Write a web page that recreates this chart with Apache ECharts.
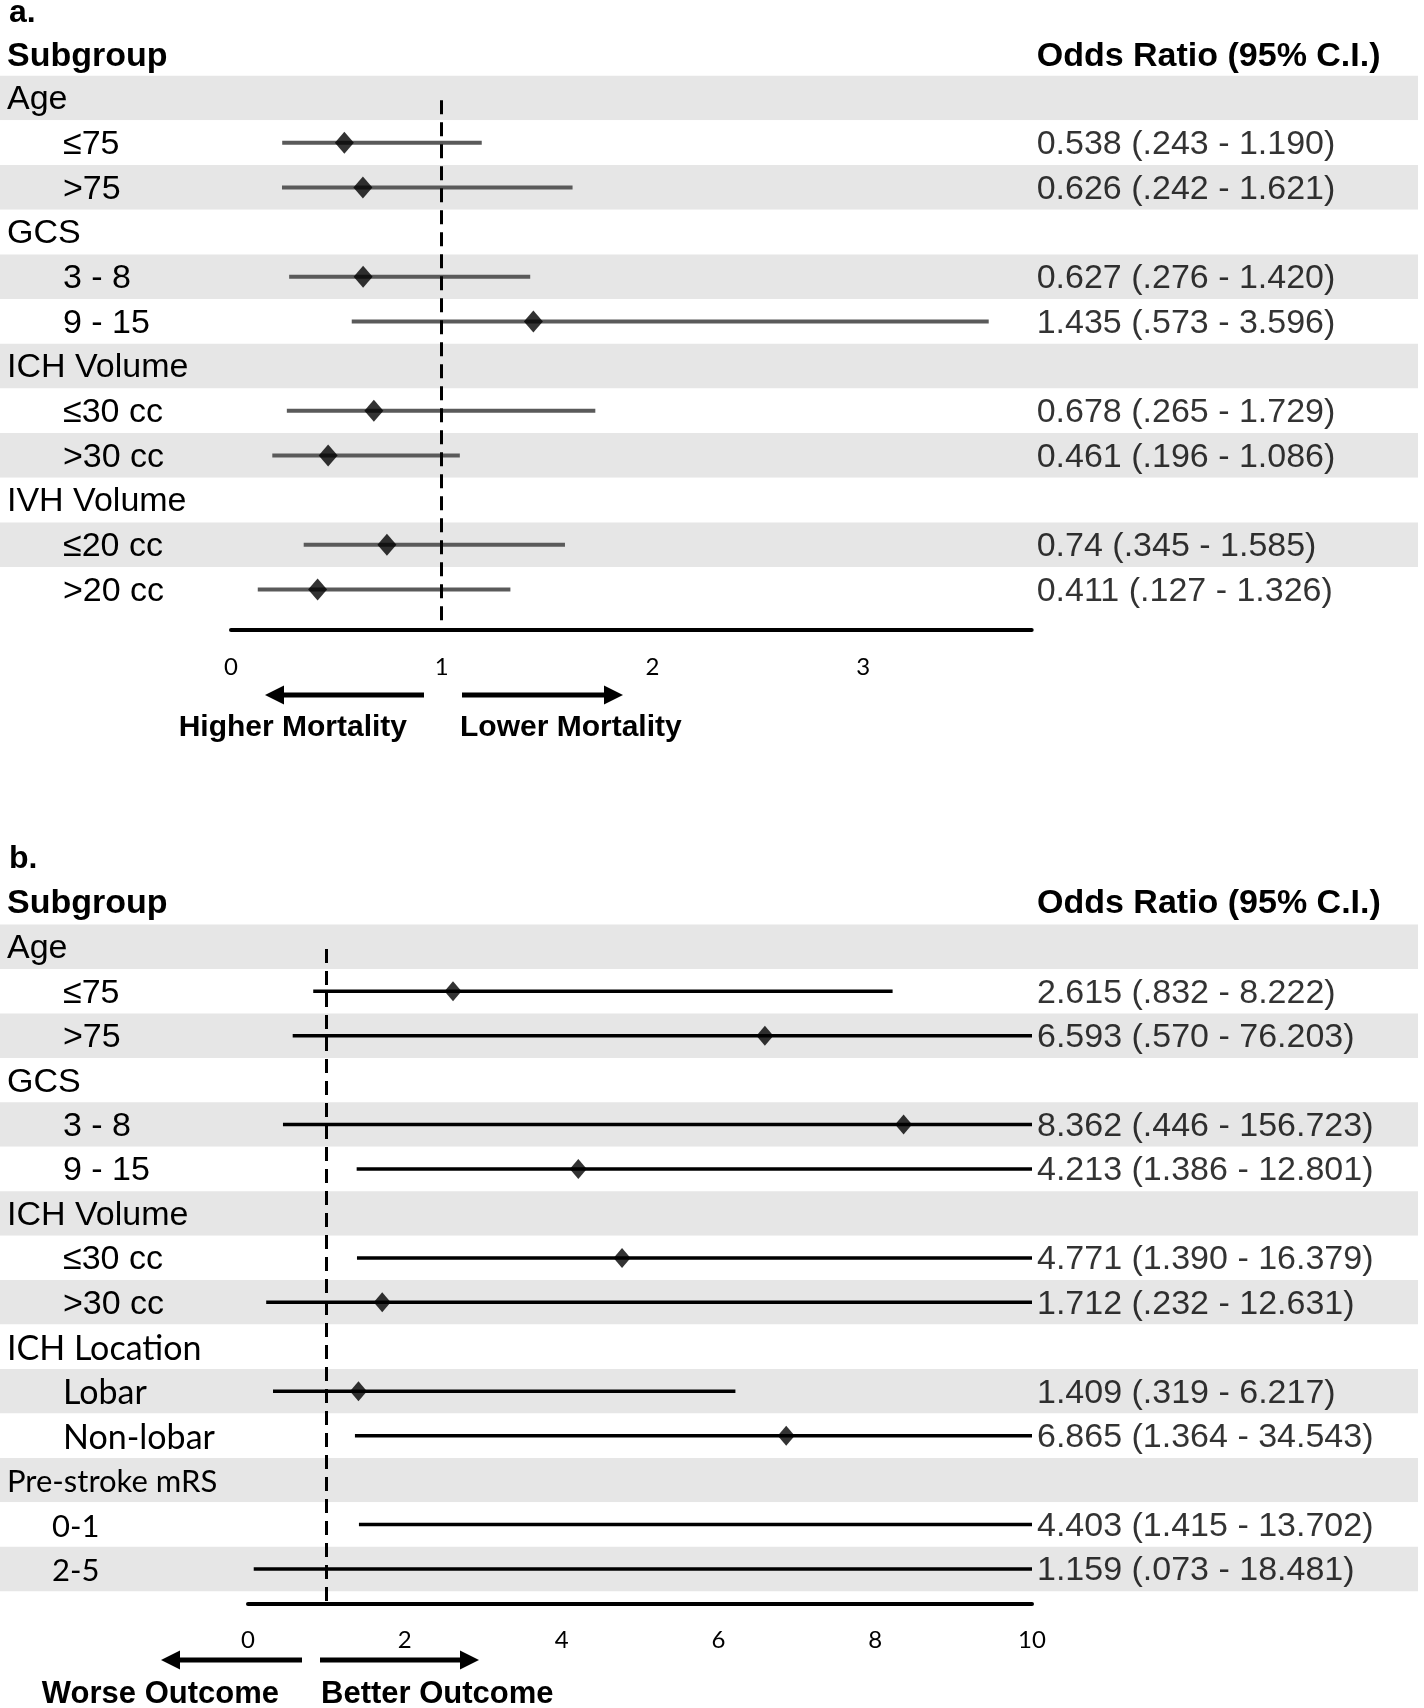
<!DOCTYPE html>
<html><head><meta charset="utf-8">
<script src="https://cdn.jsdelivr.net/npm/echarts@6/dist/echarts.min.js"></script>
<style>html,body{margin:0;padding:0;background:#fff}#c{width:1424px;height:1708px}</style>
</head><body><div id="c"></div>
<script>
// ================= DATA =================
// Panel a: mortality
const rowsA = ['Age','≤75','>75','GCS','3 - 8','9 - 15','ICH Volume','≤30 cc','>30 cc','IVH Volume','≤20 cc','>20 cc'];
const headerA = [1,0,0,1,0,0,1,0,0,1,0,0];
const orA = [null,0.538,0.626,null,0.627,1.435,null,0.678,0.461,null,0.74,0.411];
const loA = [null,0.243,0.242,null,0.276,0.573,null,0.265,0.196,null,0.345,0.127];
const hiA = [null,1.190,1.621,null,1.420,3.596,null,1.729,1.086,null,1.585,1.326];
const textA = ['','0.538 (.243 - 1.190)','0.626 (.242 - 1.621)','','0.627 (.276 - 1.420)','1.435 (.573 - 3.596)','',
  '0.678 (.265 - 1.729)','0.461 (.196 - 1.086)','','0.74 (.345 - 1.585)','0.411 (.127 - 1.326)'];
const ticksA = {min:0, max:3.8, step:1};
const refLineA = 1;
const notesA = ['Higher Mortality','Lower Mortality'];

// Panel b: outcome
const rowsB = ['Age','≤75','>75','GCS','3 - 8','9 - 15','ICH Volume','≤30 cc','>30 cc','ICH Location','Lobar','Non-lobar','Pre-stroke mRS','0-1','2-5'];
const headerB = [1,0,0,1,0,0,1,0,0,1,0,0,1,0,0];
const orB = [null,2.615,6.593,null,8.362,4.213,null,4.771,1.712,null,1.409,6.865,null,4.403,1.159];
const loB = [null,0.832,0.570,null,0.446,1.386,null,1.390,0.232,null,0.319,1.364,null,1.415,0.073];
const hiB = [null,8.222,76.203,null,156.723,12.801,null,16.379,12.631,null,6.217,34.543,null,13.702,18.481];
const textB = ['','2.615 (.832 - 8.222)','6.593 (.570 - 76.203)','','8.362 (.446 - 156.723)','4.213 (1.386 - 12.801)','',
  '4.771 (1.390 - 16.379)','1.712 (.232 - 12.631)','','1.409 (.319 - 6.217)','6.865 (1.364 - 34.543)','',
  '4.403 (1.415 - 13.702)','1.159 (.073 - 18.481)'];
const ticksB = {min:0, max:10, step:2};
const refLineB = 1;
const notesB = ['Worse Outcome','Better Outcome'];

const tagA = 'a.', tagB = 'b.';
const colHeadLeft = 'Subgroup', colHeadRight = 'Odds Ratio (95% C.I.)';

// ================= LAYOUT / STYLE =================
const W = 1424;
const LA = {bandTop:75.7, rowH:44.67, x0:231, x1:1031.7, axisY:629.7, headY:56.5, tagY:13, tickY:667,
  arrowY:695, noteY:728, arrows:[[424,265],[462,623]], noteX:[407,460], lineColor:'#5a5a5a', lineW:4, dia:[19,22]};
const LB = {bandTop:924.6, rowH:44.44, x0:248, x1:1032, axisY:1603.8, headY:904, tagY:859, tickY:1640,
  arrowY:1660, noteY:1694, arrows:[[302,161],[320,479]], noteX:[279,321], lineColor:'#000', lineW:3.5, dia:[17,20]};
const keysA = headerA.map(h => h ? 'h' : 's');
const keysB = ['h','s','s','h','s','s','h','s','s','hc','sc','sc','hp','sd','sd'];
const hiddenPointsB = [13,14];
const ARIAL = '"Liberation Sans", Arial, sans-serif';
const CAL = 'Lato, "Open Sans", sans-serif';
const RICH = {
  h:{fontFamily:ARIAL, fontSize:34, color:'#000', padding:[4,0,0,0]},
  s:{fontFamily:ARIAL, fontSize:34, color:'#000', padding:[4,0,0,56]},
  hc:{fontFamily:CAL, fontSize:34, color:'#000', padding:[4,0,0,0]},
  sc:{fontFamily:CAL, fontSize:34, color:'#000', padding:[4,0,0,56]},
  hp:{fontFamily:CAL, fontSize:31, color:'#000', padding:[4,0,0,0]},
  sd:{fontFamily:CAL, fontSize:31, color:'#000', padding:[4,0,0,45]}
};

function panel(idx, L, rows, keys, or, lo, hi, txt, ticks, ref, hidden){
  const g0 = idx*2, g1 = idx*2+1;
  const N = rows.length;
  const yMax = (L.axisY - L.bandTop)/L.rowH - 0.5;
  const grids = [
    {left:0, right:6, top:L.bandTop, height:N*L.rowH},
    {left:L.x0, right:W-L.x1, top:L.bandTop, height:L.axisY-L.bandTop}
  ];
  const xAxes = [
    {gridIndex:g0, type:'value', min:0, max:1, show:false},
    {gridIndex:g1, type:'value', min:ticks.min, max:ticks.max, interval:ticks.step,
      axisLine:{show:true, onZero:false, lineStyle:{color:'#000', width:4}},
      axisTick:{show:false}, splitLine:{show:false},
      axisLabel:{showMaxLabel: ticks.max % ticks.step === 0, fontFamily:CAL, fontSize:24, color:'#000',
        margin:L.tickY - L.axisY - 12}}
  ];
  const yAxes = [
    {gridIndex:g0, type:'category', inverse:true, data:rows, boundaryGap:true,
      axisLine:{show:false}, axisTick:{show:false}, splitLine:{show:false},
      splitArea:{show:true, interval:0, areaStyle:{color:['#e6e6e6','#ffffff']}},
      axisLabel:{inside:true, margin:7, interval:0, formatter:(v,i)=>'{'+keys[i]+'|'+v+'}', rich:RICH}},
    {gridIndex:g1, type:'value', inverse:true, min:-0.5, max:yMax, show:false}
  ];
  const ciData = [], ptData = [], txtData = [];
  for (let i=0;i<N;i++){
    if (or[i] == null) continue;
    ciData.push([i, lo[i], hi[i]]);
    if (!hidden.includes(i)) ptData.push([or[i], i]);
    txtData.push([ticks.max, i, txt[i]]);
  }
  const xi = g1, yi = g1;
  const series = [
    {type:'custom', xAxisIndex:xi, yAxisIndex:yi, data:ciData, encode:{x:[1,2], y:0}, z:3, silent:true,
      renderItem:(p, api)=>{
        const r = api.value(0), a = api.value(1), b = Math.min(api.value(2), ticks.max);
        const p1 = api.coord([a, r]), p2 = api.coord([b, r]);
        return {type:'line', shape:{x1:p1[0], y1:p1[1], x2:p2[0], y2:p2[1]},
          style:{stroke:L.lineColor, lineWidth:L.lineW}};
      },
      markLine:{silent:true, symbol:['none','none'], label:{show:false},
        lineStyle:{color:'#000', width:3, type:[14,8]},
        data:[[{coord:[ref, 0.05]}, {coord:[ref, yMax]}]]}
    },
    {type:'scatter', xAxisIndex:xi, yAxisIndex:yi, data:ptData, symbol:'diamond', symbolSize:L.dia,
      itemStyle:{color:'#000'}, z:5, silent:true},
    {type:'scatter', xAxisIndex:xi, yAxisIndex:yi, data:txtData, symbolSize:0, silent:true, z:4,
      label:{show:true, position:'right', distance:5, offset:[0,2], formatter:p=>p.data[2],
        fontFamily:ARIAL, fontSize:34, color:'#000'}}
  ];
  return {grids, xAxes, yAxes, series};
}

const pA = panel(0, LA, rowsA, keysA, orA, loA, hiA, textA, ticksA, refLineA, []);
const pB = panel(1, LB, rowsB, keysB, orB, loB, hiB, textB, ticksB, refLineB, hiddenPointsB);

function txt(x, y, s, font, align){
  return {type:'text', x:x, y:y, silent:true,
    style:{text:s, font:font, fill:'#000', align:align||'left', textAlign:align||'left',
      verticalAlign:'middle', textVerticalAlign:'middle'}};
}
function arrow(tail, tip, y){
  const d = tip > tail ? 1 : -1, hl = 19, hw = 9.5;
  return {type:'group', silent:true, children:[
    {type:'line', shape:{x1:tail, y1:y, x2:tip - d*hl*0.8, y2:y}, style:{stroke:'#000', lineWidth:5}},
    {type:'polygon', shape:{points:[[tip,y],[tip-d*hl,y-hw],[tip-d*hl,y+hw]]}, style:{fill:'#000'}}
  ]};
}
const BOLD34 = 'bold 34px "Liberation Sans", Arial, sans-serif';
const BOLD30 = 'bold 30px "Liberation Sans", Arial, sans-serif';
const BOLD31 = 'bold 31px "Liberation Sans", Arial, sans-serif';
const graphics = [];
[[LA, tagA, notesA, BOLD30],[LB, tagB, notesB, BOLD31]].forEach(([L, tag, notes, nf])=>{
  graphics.push(txt(9, L.tagY, tag, 'bold 32px "Liberation Sans", Arial, sans-serif'));
  graphics.push(txt(7, L.headY, colHeadLeft, BOLD34));
  graphics.push(txt(L.x1 + 5, L.headY, colHeadRight, BOLD34));
  graphics.push(arrow(L.arrows[0][0], L.arrows[0][1], L.arrowY));
  graphics.push(arrow(L.arrows[1][0], L.arrows[1][1], L.arrowY));
  graphics.push(txt(L.noteX[0], L.noteY, notes[0], nf, 'right'));
  graphics.push(txt(L.noteX[1], L.noteY, notes[1], nf, 'left'));
});

const chart = echarts.init(document.getElementById('c'), null, {renderer:'canvas'});
chart.setOption({
  animation:false,
  backgroundColor:'#fff',
  grid:[...pA.grids, ...pB.grids],
  xAxis:[...pA.xAxes, ...pB.xAxes],
  yAxis:[...pA.yAxes, ...pB.yAxes],
  series:[...pA.series, ...pB.series],
  graphic:graphics
});
</script></body></html>
